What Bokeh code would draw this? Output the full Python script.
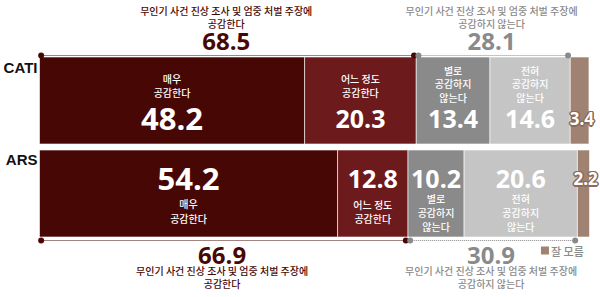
from bokeh.plotting import figure
from bokeh.models import Range1d, ColumnDataSource
from bokeh.core.properties import value
from bokeh.embed import file_html
from bokeh.resources import INLINE

# ---- data ----
rows = ["CATI", "ARS"]
cati = [48.2, 20.3, 13.4, 14.6, 3.4]
ars = [54.2, 12.8, 10.2, 20.6, 2.2]
cat_labels = [["매우", "공감한다"], ["어느 정도", "공감한다"],
              ["별로", "공감하지", "않는다"], ["전혀", "공감하지", "않는다"]]
agree_totals = [68.5, 66.9]
disagree_totals = [28.1, 30.9]
group_label_agree = ["무인기 사건 진상 조사 및 엄중 처벌 주장에", "공감한다"]
group_label_disagree = ["무인기 사건 진상 조사 및 엄중 처벌 주장에", "공감하지 않는다"]
legend_label = "잘 모름"

colors = ["#470805", "#6c1a1b", "#8a8a8a", "#c5c5c5", "#a08272"]
DARK = "#470805"
GREY = "#8a8a8a"
KFONT = value("Noto Sans CJK KR Medium, Noto Sans CJK KR")
NFONT = value("Open Sans")

W, H = 600, 297
p = figure(width=W, height=H, output_backend="svg", toolbar_location=None,
           x_range=Range1d(-39 / 5.5, 100 + 11 / 5.5), y_range=Range1d(H, 0),
           min_border=0, outline_line_color=None)
p.axis.visible = False
p.grid.visible = False
p.background_fill_color = "white"

row_y = [100, 193]   # row centres (layout)
bar_h = 87


def lines(x, ys, texts, color, size):
    for yy, t in zip(ys, texts):
        p.text(x=[x], y=[yy], text=[t], text_font=KFONT, text_font_size=size,
               text_color=color, text_align="center", text_baseline="middle")


for ri, vals in enumerate([cati, ars]):
    lefts, rights = [], []
    c = 0.0
    for v in vals:
        lefts.append(c)
        c += v
        rights.append(c)
    src = ColumnDataSource(dict(left=lefts, right=rights, y=[row_y[ri]] * 5, color=colors))
    p.hbar(y="y", left="left", right="right", height=bar_h, fill_color="color",
           line_color="white", line_width=0.6, source=src)

    cy = row_y[ri]
    mids = [(l + r) / 2 for l, r in zip(lefts, rights)]
    num_y = cy + 18 if ri == 0 else cy - 15
    for k in range(4):
        fs = "31px" if k == 0 else "25px"
        p.text(x=[mids[k]], y=[num_y], text=[f"{vals[k]:.1f}"], text_font=NFONT,
               text_font_style="bold", text_font_size=fs, text_color="white",
               text_align="center", text_baseline="middle")
        lab = cat_labels[k]
        if ri == 0:
            ys = [cy - 22, cy - 8] if len(lab) == 2 else [cy - 30, cy - 17, cy - 3]
        else:
            if k == 0:
                ys = [cy + 10, cy + 25]
            elif k == 1:
                ys = [cy + 11, cy + 25]
            else:
                ys = [cy + 5, cy + 19, cy + 33]
        lines(mids[k], ys, lab, "white", "10px")

    # small "don't know" value with outline
    sx = mids[4] + 0.4
    sy = cy + 18 if ri == 0 else cy - 15
    xo = [-1, 0, 1, -1, 1, -1, 0, 1, -1.5, 1.5, 0, 0]
    yo = [-1, -1, -1, 0, 0, 1, 1, 1, 0, 0, -1.5, 1.5]
    for dx, dy in zip(xo, yo):
        p.text(x=[sx], y=[sy], text=[f"{vals[4]:.1f}"],
               text_font=NFONT, text_font_style="bold", text_font_size="17px",
               text_color="#8a6a5c", text_align="center", text_baseline="middle",
               x_offset=dx, y_offset=dy)
    p.text(x=[sx], y=[sy], text=[f"{vals[4]:.1f}"],
           text_font=NFONT, text_font_style="bold", text_font_size="17px",
           text_color="white", text_align="center", text_baseline="middle")

    # row label
    p.text(x=[0], y=[cy - 33 if ri == 0 else cy - 34], text=[rows[ri]],
           text_font=value("Liberation Sans"), text_font_style="bold",
           text_font_size="15px", text_color="#111111",
           text_align="right", text_baseline="middle", x_offset=-2)

    # brackets
    agree_end = vals[0] + vals[1]
    dis_end = agree_end + vals[2] + vals[3]
    by = 55 if ri == 0 else 240
    p.segment(x0=[0], y0=[by], x1=[agree_end - 0.4], y1=[by], line_color=DARK,
              line_width=1.2, line_dash="1 1")
    p.segment(x0=[agree_end + 0.4], y0=[by], x1=[dis_end - 0.4], y1=[by], line_color=GREY,
              line_width=1.2, line_dash="1 1")
    p.scatter(x=[0.3, agree_end - 0.4], y=[by, by], size=6, fill_color=DARK, line_color=None)
    p.scatter(x=[agree_end + 0.4, dis_end - 0.4], y=[by, by], size=6, fill_color=GREY, line_color=None)

    ax = agree_end / 2 - 0.3
    dxm = (agree_end + dis_end) / 2 - 0.3
    tot_a = agree_totals[ri]
    tot_d = disagree_totals[ri]
    if ri == 0:
        tys, nyy = [10, 23], 41
    else:
        tys, nyy = [270, 283], 255
    lines(ax, tys, group_label_agree, DARK, "10px")
    lines(dxm, tys, group_label_disagree, GREY, "10px")
    p.text(x=[ax], y=[nyy], text=[f"{tot_a:.1f}"], text_font=NFONT, text_font_style="bold",
           text_font_size="24px", text_color=DARK, text_align="center", text_baseline="middle")
    p.text(x=[dxm], y=[nyy], text=[f"{tot_d:.1f}"], text_font=NFONT, text_font_style="bold",
           text_font_size="24px", text_color=GREY, text_align="center", text_baseline="middle")

# legend for "don't know"
p.scatter(x=[91.9], y=[250], marker="square", size=8, fill_color=colors[4], line_color=None)
p.text(x=[93.0], y=[250], text=[legend_label], text_font=KFONT, text_font_size="11px",
       text_color=GREY, text_align="left", text_baseline="middle")

open("out.html", "w").write(file_html(p, INLINE))
